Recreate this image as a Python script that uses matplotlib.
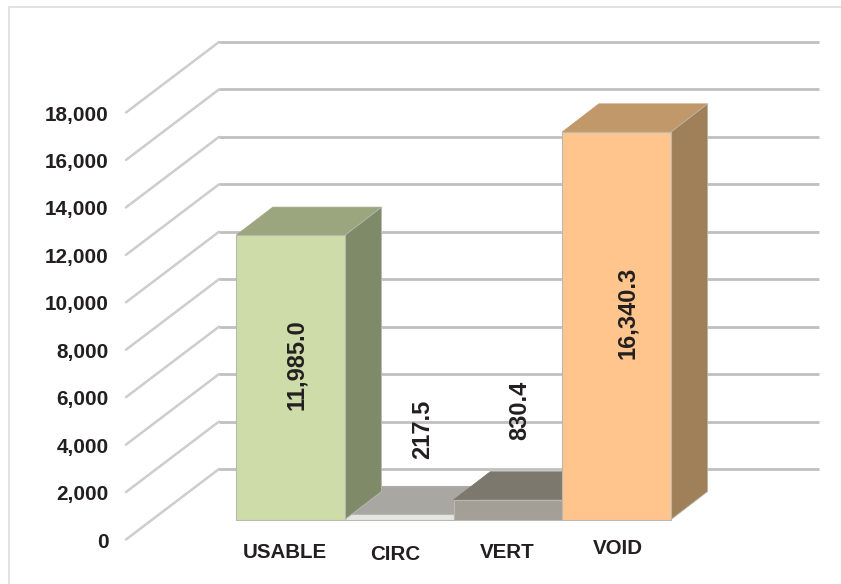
import matplotlib
matplotlib.use("Agg")
import matplotlib.pyplot as plt
from matplotlib.patches import Polygon

categories = ["USABLE", "CIRC", "VERT", "VOID"]
values = [11985.0, 217.5, 830.4, 16340.3]
value_labels = ["11,985.0", "217.5", "830.4", "16,340.3"]
ticks = list(range(0, 18001, 2000))
front_colors = ["#CDDCA9", "#E6E6E0", "#A39E96", "#FFC58C"]
top_colors = ["#9BA67F", "#A8A7A1", "#7C786E", "#C09869"]
side_colors = ["#7F8A69", "#8F8E88", "#6E6A60", "#A08058"]
draw_order = [1, 0, 2, 3]

W, H = 841, 584
PX_X = 108.7          # px per category
PX_Y = 427 / 18000    # px per value unit
X0, Y0 = 290.7, 519.5  # px of category 0 centre / baseline

fig = plt.figure(figsize=(W / 100, H / 100), dpi=100)
ax = fig.add_axes([0, 0, 1, 1])
ax.set_xlim(-X0 / PX_X, (W - X0) / PX_X)
ax.set_ylim((Y0 - H) / PX_Y, Y0 / PX_Y)
ax.axis("off")
plt.rcParams["font.family"] = ["Liberation Sans", "DejaVu Sans"]


def dx(px):
    return px / PX_X


def dy(px):
    return px / PX_Y


TXT = "#231F20"
# outer frame
ax.plot([dx(9 - X0), dx(9 - X0), dx(W - X0)],
        [dy(Y0 - H), dy(Y0 - 7), dy(Y0 - 7)],
        color="#E2E2E2", lw=1.4, zorder=1, solid_capstyle="butt")

# wall grid and slanted floor/side lines
left_x, back_x, right_x = dx(126 - X0), dx(219 - X0), dx(819 - X0)
front_off, back_off = dy(-20), dy(50.5)
for t in ticks:
    ax.plot([left_x, back_x], [t + front_off, t + back_off],
            color="#CDCDCD", lw=1.8, zorder=2, solid_capstyle="round")
    ax.plot([back_x, right_x], [t + back_off, t + back_off],
            color="#C0C0C0", lw=2.0, zorder=2, solid_capstyle="butt")
    ax.text(dx(108.5 - X0), t + front_off + dy(-2.5), f"{t:,}", ha="right", va="center",
            fontsize=14.9, fontweight="bold", color=TXT, zorder=6)

# 3-D bars
bar_half = 0.5
depth_x, depth_y = dx(36.5), dy(28)
for z, i in enumerate(draw_order):
    v = values[i]
    l, r = i - bar_half, i + bar_half
    zo = 3 + z * 0.1
    edge = "#B9B9B3"
    ax.add_patch(Polygon([(l, v), (r, v), (r + depth_x, v + depth_y), (l + depth_x, v + depth_y)],
                         closed=True, fc=top_colors[i], ec=top_colors[i], lw=0.6, zorder=zo))
    ax.add_patch(Polygon([(r, 0), (r + depth_x, depth_y), (r + depth_x, v + depth_y), (r, v)],
                         closed=True, fc=side_colors[i], ec=edge, lw=0.6, zorder=zo))
    ax.add_patch(Polygon([(l, 0), (r, 0), (r, v), (l, v)],
                         closed=True, fc=front_colors[i], ec=edge, lw=0.8, zorder=zo + 0.05))

# value labels (offset in pixels from bar top-centre)
label_anchor = [(6, 0, "center"), (23, 55, "bottom"), (12, 60, "bottom"), (11, 0, "center")]
for i, (ox, oy, mode) in enumerate(label_anchor):
    if mode == "center":
        y = values[i] / 2 + dy(13)
    else:
        y = values[i] + dy(oy)
    ax.text(i + dx(ox), y, value_labels[i], rotation=90, ha="center",
            va="center" if mode == "center" else "bottom",
            fontsize=17, fontweight="bold", color=TXT, zorder=6)

# category labels
cat_offset_x = [-6, -4.5, -1, 1.5]
cat_offset_y = [33, 34.5, 32.5, 29]
for i, c in enumerate(categories):
    ax.text(i + dx(cat_offset_x[i]), dy(-cat_offset_y[i]), c, ha="center", va="center",
            fontsize=14.8, fontweight="bold", color=TXT, zorder=6)

fig.savefig("out.png", dpi=100, facecolor="white")
